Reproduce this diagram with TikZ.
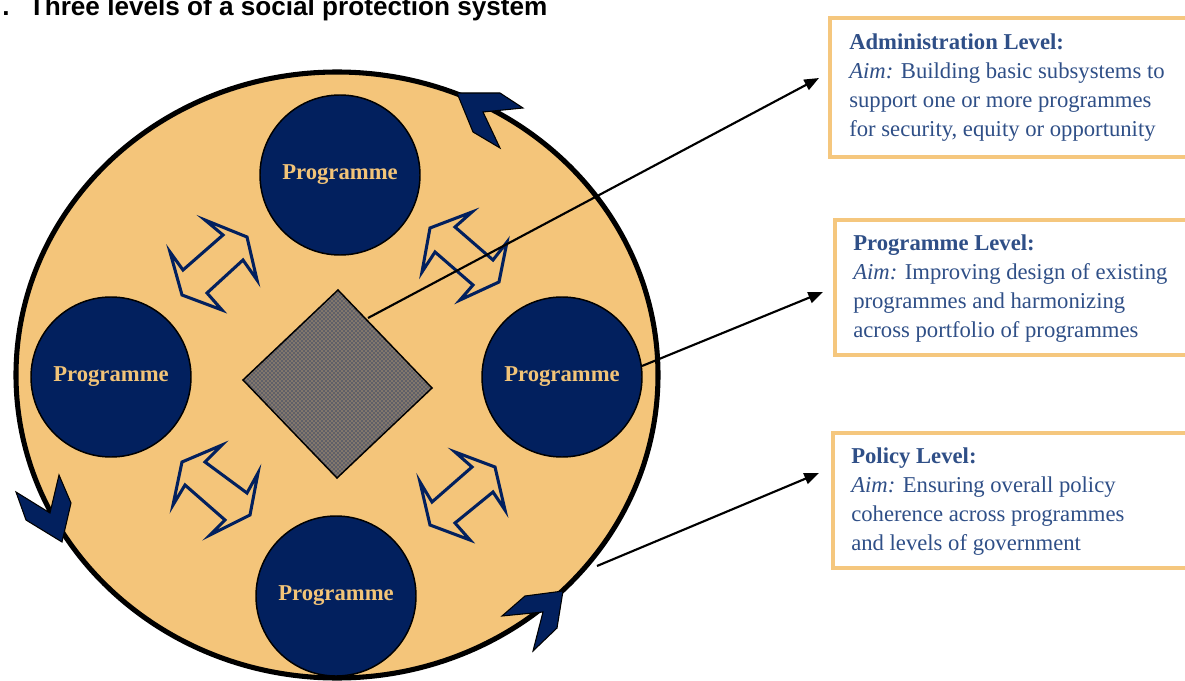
\documentclass[tikz,border=0pt]{standalone}
\usepackage{fontspec}
\setmainfont{Liberation Serif}
\newfontfamily\titlefont{Liberation Sans}
\usetikzlibrary{arrows.meta,patterns}
\definecolor{tanfill}{RGB}{244,197,122}
\definecolor{navy}{RGB}{2,32,94}
\definecolor{boxline}{RGB}{245,199,126}
\definecolor{txtblue}{RGB}{47,79,135}
\definecolor{progtxt}{RGB}{242,196,120}
\definecolor{diamfill}{RGB}{96,96,104}
\begin{document}
\begin{tikzpicture}[x=0.75pt,y=-0.75pt,
  prog/.style={circle, minimum size=120pt, inner sep=0pt, fill=navy, draw=black, line width=1.1pt,
    text=progtxt, font=\bfseries\fontsize{17}{20}\selectfont},
  lvlbox/.style={rectangle, draw=boxline, line width=3pt, fill=white, anchor=north west, inner sep=0pt},
  lvltext/.style={anchor=north west, inner sep=0pt, align=left, text=txtblue,
    font=\fontsize{17}{21.75}\selectfont},
  dblarrow/.style={draw=navy, line width=2.3pt, fill=tanfill, line join=miter},
  chev/.style={fill=navy, draw=black, line width=0.8pt, line join=miter},
  conn/.style={draw=black, line width=1.6pt, -{Triangle[length=11pt,width=8.5pt]}},
  diam/.style={draw=black, line width=1.1pt}
]
\useasboundingbox (0,0) rectangle (1185,681);
\clip (0,0) rectangle (1185,681);
\fill[white] (0,0) rectangle (1185,681);

% title
\node[anchor=base west, inner sep=0pt, font=\titlefont\bfseries\fontsize{19.6}{24}\selectfont] (title) at (2,16)
  {.\hspace{14.5pt}Three levels of a social protection system};

% big ellipse
\draw[line width=3.8pt, fill=tanfill] (337,375) ellipse [x radius=321, y radius=303];

% curved-arrow heads on the ellipse
\draw[chev] (457,93) -- (500,93) -- (523,108) -- (483,112) -- (500,148) -- (473,132) -- cycle;
\draw[chev] (16,492) -- (50,513) -- (59,475) -- (71,503) -- (62,542) -- (26,520) -- cycle;
\draw[chev] (502,616) -- (525,596) -- (563,591) -- (557,628) -- (533,651) -- (543,612) -- cycle;

% double block arrows
\draw[dblarrow] (205,220) -- (247,237) -- (257,280) -- (243,260) -- (207,293) -- (222,310) -- (182,295) -- (170,252) -- (183,270) -- (223,235) -- cycle;
\draw[dblarrow] (430,228) -- (472,212) -- (455,227) -- (493,260) -- (507,242) -- (499,282) -- (460,300) -- (473,285) -- (435,252) -- (422,272) -- cycle;
\draw[dblarrow] (182,462) -- (222,445) -- (205,462) -- (247,493) -- (258,473) -- (250,515) -- (210,535) -- (225,520) -- (185,485) -- (173,505) -- cycle;
\draw[dblarrow] (455,452) -- (495,467) -- (505,510) -- (493,492) -- (455,523) -- (470,540) -- (430,525) -- (420,482) -- (432,502) -- (472,467) -- cycle;

% programme circles
\node[prog] (ptop) at (340,175) {Programme};
\node[prog] (pleft) at (111,377) {Programme};
\node[prog] (pright) at (562,377) {Programme};
\node[prog] (pbot) at (336,596) {Programme};

% central diamond
\coordinate (dt) at (338,290);
\coordinate (dr) at (432,388);
\coordinate (db) at (337,478);
\coordinate (dl) at (243,380);
\fill[diamfill] (dt) -- (dr) -- (db) -- (dl) -- cycle;
\fill[pattern=crosshatch dots, pattern color=tanfill] (dt) -- (dr) -- (db) -- (dl) -- cycle;
\draw[diam] (dt) -- (dr) -- (db) -- (dl) -- cycle;

% level boxes
\node[lvlbox, minimum width=279pt, minimum height=104.25pt] (admin) at (828,16) {};
\node[lvlbox, minimum width=279pt, minimum height=101.25pt] (progbox) at (833,218) {};
\node[lvlbox, minimum width=279pt, minimum height=101.25pt] (policy) at (831,431) {};

\node[lvltext] (admintxt) at (849,34) {\textbf{Administration Level:}\\\textit{Aim:} Building basic subsystems to\\support one or more programmes\\for security, equity or opportunity};
\node[lvltext] (progtxt) at (853,235) {\textbf{Programme Level:}\\\textit{Aim:} Improving design of existing\\programmes and harmonizing\\across portfolio of programmes};
\node[lvltext] (policytxt) at (851,448) {\textbf{Policy Level:}\\\textit{Aim:} Ensuring overall policy\\coherence across programmes\\and levels of government};

% connectors
\coordinate (s1) at (368,318);
\coordinate (e1) at (819,78);
\coordinate (s2) at (642,366);
\coordinate (e2) at (823,292);
\coordinate (s3) at (597,566);
\coordinate (e3) at (819,473);
\draw[conn] (s1) -- (e1);
\draw[conn] (s2) -- (e2);
\draw[conn] (s3) -- (e3);
\end{tikzpicture}
\end{document}
